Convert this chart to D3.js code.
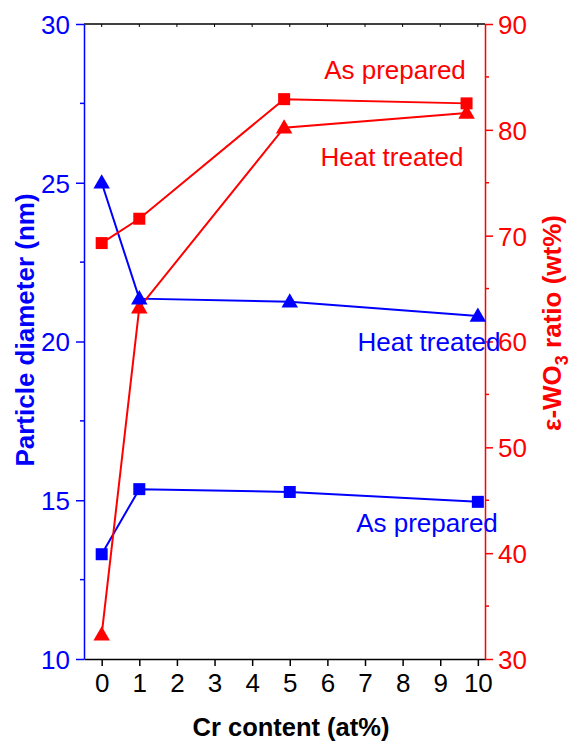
<!DOCTYPE html>
<html>
<head>
<meta charset="utf-8">
<script src="https://cdn.jsdelivr.net/npm/d3@7"></script>
<style>
body{margin:0;background:#fff;}
text{font-family:"Liberation Sans",Arial,sans-serif;}
</style>
</head>
<body>
<svg id="chart" width="574" height="743"></svg>
<script>
// data
var xTicks=[0,1,2,3,4,5,6,7,8,9,10];
var leftTicks=[10,15,20,25,30];
var rightTicks=[30,40,50,60,70,80,90];

var blueX=[0,1,5,10];
var diamHeat=[25.0,21.35,21.25,20.8];
var diamPrep=[13.3,15.35,15.26,14.95];

var redX=[0,1,4.85,9.7];
var ratioPrep=[69.3,71.6,82.9,82.5];
var ratioHeat=[32.3,63.2,80.2,81.6];

var blue="#0000ff", red="#ff0000";

var svg=d3.select("#chart");
// plot box (note: "top" is reserved on window, so use pTop etc.)
var pLeft=84, pRight=485, pTop=24, pBottom=659;

var x=d3.scaleLinear().domain([-0.47,10.19]).range([pLeft,pRight]);
var yL=d3.scaleLinear().domain([10,30]).range([pBottom,pTop]);
var yR=d3.scaleLinear().domain([30,90]).range([pBottom,pTop]);

// top frame line
svg.append("line").attr("x1",pLeft).attr("x2",pRight).attr("y1",pTop).attr("y2",pTop)
	.attr("stroke","#000").attr("stroke-width",1.5);
svg.selectAll(".ttick").data(xTicks).enter().append("line")
	.attr("x1",function(d){return x(d);}).attr("x2",function(d){return x(d);})
	.attr("y1",pTop).attr("y2",pTop+3).attr("stroke","#000").attr("stroke-width",1);

// bottom axis
var xAxis=svg.append("g").attr("transform","translate(0,"+pBottom+")")
	.call(d3.axisBottom(x).tickValues(xTicks).tickSize(7).tickPadding(8).tickSizeOuter(0));
xAxis.select(".domain").attr("stroke","#000").attr("stroke-width",1.5);
xAxis.selectAll(".tick line").attr("stroke","#000").attr("stroke-width",1.5);
xAxis.selectAll(".tick text").attr("font-size",26).attr("fill","#000")
	.attr("font-family","Liberation Sans, Arial, sans-serif");

// left axis
var lAxis=svg.append("g").attr("transform","translate("+pLeft+",0)")
	.call(d3.axisLeft(yL).tickValues(leftTicks).tickSize(8).tickPadding(6).tickSizeOuter(0));
lAxis.select(".domain").attr("stroke",blue).attr("stroke-width",1.5);
lAxis.selectAll(".tick line").attr("stroke",blue).attr("stroke-width",1.5);
lAxis.selectAll(".tick text").attr("font-size",26).attr("fill",blue).attr("dy","0.36em")
	.attr("font-family","Liberation Sans, Arial, sans-serif");
svg.selectAll(".lminor").data([12.5,17.5,22.5,27.5]).enter().append("line")
	.attr("x1",pLeft-4).attr("x2",pLeft)
	.attr("y1",function(d){return yL(d);}).attr("y2",function(d){return yL(d);})
	.attr("stroke",blue).attr("stroke-width",1.5);

// right axis
var rAxis=svg.append("g").attr("transform","translate("+pRight+",0)")
	.call(d3.axisRight(yR).tickValues(rightTicks).tickSize(8).tickPadding(5).tickSizeOuter(0));
rAxis.select(".domain").attr("stroke",red).attr("stroke-width",1.5);
rAxis.selectAll(".tick line").attr("stroke",red).attr("stroke-width",1.5);
rAxis.selectAll(".tick text").attr("font-size",26).attr("fill",red).attr("dy","0.36em")
	.attr("font-family","Liberation Sans, Arial, sans-serif");
svg.selectAll(".rminor").data([35,45,55,65,75,85]).enter().append("line")
	.attr("x1",pRight).attr("x2",pRight+4)
	.attr("y1",function(d){return yR(d);}).attr("y2",function(d){return yR(d);})
	.attr("stroke",red).attr("stroke-width",1.5);

// axis titles
svg.append("text").attr("x",291).attr("y",736).attr("text-anchor","middle")
	.attr("font-size",25.5).attr("font-weight","bold").text("Cr content (at%)");
svg.append("text").attr("transform","translate(34,330) rotate(-90)").attr("text-anchor","middle")
	.attr("font-size",26).attr("font-weight","bold").attr("fill",blue).text("Particle diameter (nm)");
var rt=svg.append("text").attr("transform","translate(561,323) rotate(-90)").attr("text-anchor","middle")
	.attr("font-size",26).attr("font-weight","bold").attr("fill",red);
rt.append("tspan").text("ε-WO");
rt.append("tspan").attr("font-size",18).attr("dy",7).text("3");
rt.append("tspan").attr("dy",-7).text(" ratio (wt%)");

// series
function series(xs,ys,ysc,color,shape){
	var pts=xs.map(function(d,i){return [x(d),ysc(ys[i])];});
	svg.append("path").attr("d",d3.line()(pts)).attr("fill","none")
		.attr("stroke",color).attr("stroke-width",2);
	return function(){
		var sym=d3.symbol().type(shape).size(shape===d3.symbolSquare?144:118);
		svg.selectAll(null).data(pts).enter().append("path")
			.attr("d",sym)
			.attr("transform",function(d){return "translate("+d[0]+","+(d[1]+(shape===d3.symbolTriangle?1:0))+")";})
			.attr("fill",color);
	};
}
var m1=series(blueX,diamHeat,yL,blue,d3.symbolTriangle);
var m2=series(blueX,diamPrep,yL,blue,d3.symbolSquare);
var m3=series(redX,ratioPrep,yR,red,d3.symbolSquare);
var m4=series(redX,ratioHeat,yR,red,d3.symbolTriangle);
m3();m4();m1();m2();

// labels
function label(t,cx,cy,color){
	svg.append("text").attr("x",cx).attr("y",cy).attr("text-anchor","middle")
		.attr("font-size",26).attr("fill",color).text(t);
}
label("As prepared",395,79,red);
label("Heat treated",392,166,red);
label("Heat treated",429,351,blue);
label("As prepared",427,532,blue);
</script>
</body>
</html>
